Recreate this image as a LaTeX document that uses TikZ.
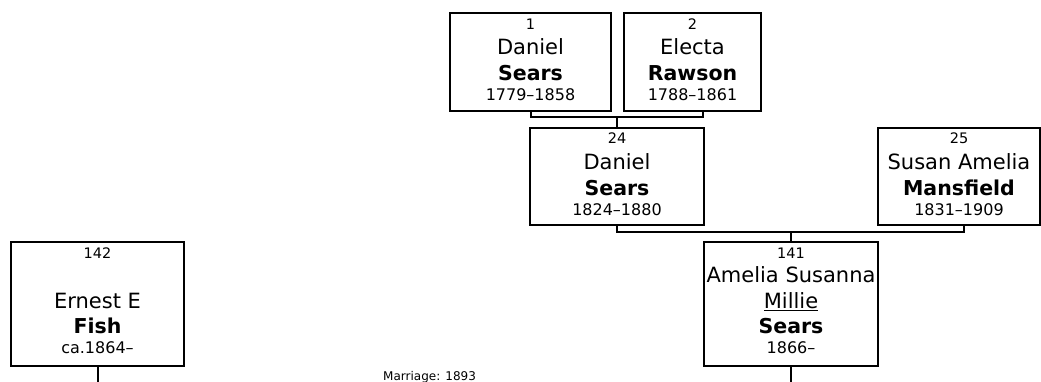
\documentclass[tikz,border=0pt]{standalone}
\usepackage{fontspec}
\setmainfont{DejaVu Sans}
\usetikzlibrary{calc}
\begin{document}
\begin{tikzpicture}[x=1pt,y=-1pt,
  pbox/.style={draw,line width=2pt,inner sep=0pt,anchor=north west},
  num/.style={font=\fontsize{14.5}{17}\selectfont,anchor=base,inner sep=0pt},
  nm/.style={font=\fontsize{21}{24}\selectfont,anchor=base,inner sep=0pt},
  nmb/.style={font=\fontsize{20.5}{24}\selectfont\bfseries,anchor=base,inner sep=0pt},
  dt/.style={font=\fontsize{16}{19}\selectfont,anchor=base,inner sep=0pt},
  link/.style={line width=2pt}]
\useasboundingbox[fill=white] (0,0) rectangle (1041,381);

% boxes
\node[pbox,minimum width=161pt,minimum height=98pt] (b1) at (449,12) {};
\node[pbox,minimum width=137pt,minimum height=98pt] (b2) at (623,12) {};
\node[pbox,minimum width=174pt,minimum height=97pt] (b24) at (529,127) {};
\node[pbox,minimum width=162pt,minimum height=97pt] (b25) at (877,127) {};
\node[pbox,minimum width=174pt,minimum height=124pt] (b141) at (703,241) {};
\node[pbox,minimum width=173pt,minimum height=124pt] (b142) at (10,241) {};

% box 1
\node[num] (t1a) at ($(b1.north)+(0,17)$) {1};
\node[nm]  (t1b) at ($(b1.north)+(0,42)$) {Daniel};
\node[nmb] (t1c) at ($(b1.north)+(0,68)$) {Sears};
\node[dt]  (t1d) at ($(b1.north)+(0,88)$) {1779–1858};
% box 2
\node[num] (t2a) at ($(b2.north)+(0,17)$) {2};
\node[nm]  (t2b) at ($(b2.north)+(0,42)$) {Electa};
\node[nmb] (t2c) at ($(b2.north)+(0,68)$) {Rawson};
\node[dt]  (t2d) at ($(b2.north)+(0,88)$) {1788–1861};
% box 24
\node[num] (t24a) at ($(b24.north)+(0,16)$) {24};
\node[nm]  (t24b) at ($(b24.north)+(0,42)$) {Daniel};
\node[nmb] (t24c) at ($(b24.north)+(0,68)$) {Sears};
\node[dt]  (t24d) at ($(b24.north)+(0,88)$) {1824–1880};
% box 25
\node[num] (t25a) at ($(b25.north)+(0,16)$) {25};
\node[nm]  (t25b) at ($(b25.north)+(0,42)$) {Susan Amelia};
\node[nmb] (t25c) at ($(b25.north)+(0,68)$) {Mansfield};
\node[dt]  (t25d) at ($(b25.north)+(0,88)$) {1831–1909};
% box 141
\node[num] (t141a) at ($(b141.north)+(0,17)$) {141};
\node[nm]  (t141b) at ($(b141.north)+(0,41)$) {Amelia Susanna};
\node[nm]  (t141c) at ($(b141.north)+(0,67)$) {\underline{Millie}};
\node[nmb] (t141d) at ($(b141.north)+(0,92)$) {Sears};
\node[dt]  (t141e) at ($(b141.north)+(0,112)$) {1866–};
% box 142
\node[num] (t142a) at ($(b142.north)+(0,17)$) {142};
\node[nm]  (t142c) at ($(b142.north)+(0,67)$) {Ernest E};
\node[nmb] (t142d) at ($(b142.north)+(0,92)$) {Fish};
\node[dt]  (t142e) at ($(b142.north)+(0,112)$) {ca.1864–};

% connectors
\coordinate (j12) at ($(b24.north)+(0,-10)$);
\coordinate (b2c) at ($(b2.south west)+(80,0)$);
\draw[link] (b1.south) |- (j12) -| (b2c);
\draw[link] (j12) -- (b24.north);
\coordinate (j2425) at ($(b141.north)+(0,-9)$);
\coordinate (b25c) at ($(b25.south west)+(87,0)$);
\draw[link] (b24.south) |- (j2425) -| (b25c);
\draw[link] (j2425) -- (b141.north);
\coordinate (e141) at ($(b141.south)+(0,20)$);
\coordinate (e142) at ($(b142.south)+(0,20)$);
\draw[link] (b141.south) -- (e141);
\draw[link] (b142.south) -- (e142);

\node[font=\fontsize{12}{14}\selectfont,anchor=base west,inner sep=0pt] (mar) at (383,380) {Marriage: 1893};
\end{tikzpicture}
\end{document}
